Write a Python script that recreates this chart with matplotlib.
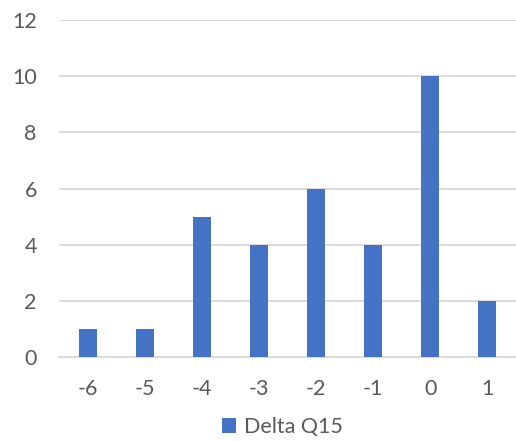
import matplotlib
matplotlib.use("Agg")
import matplotlib.pyplot as plt
from matplotlib.patches import Patch

categories = ["-6", "-5", "-4", "-3", "-2", "-1", "0", "1"]
counts = [1, 1, 5, 4, 6, 4, 10, 2]
series_name = "Delta Q15"
y_ticks = [0, 2, 4, 6, 8, 10, 12]

bar_color = "#4472C4"
text_color = "#595959"
grid_color = "#D9D9D9"

plt.rcParams["font.family"] = ["Lato", "DejaVu Sans"]

fig = plt.figure(figsize=(5.16, 4.41), dpi=100)
ax = fig.add_axes([0.1143, 0.1905, 0.8857, 0.7641])

x = range(len(categories))
ax.bar(x, counts, width=0.315, color=bar_color, zorder=3)

ax.set_xlim(-0.5, len(categories) - 0.5)
ax.set_ylim(0, 12)
ax.set_yticks(y_ticks)
ax.set_xticks(list(x))
ax.set_xticklabels(categories)

ax.yaxis.grid(True, color=grid_color, linewidth=1.3, zorder=0)
ax.set_axisbelow(True)
for side in ["left", "right", "top"]:
    ax.spines[side].set_visible(False)
ax.spines["bottom"].set_color(grid_color)
ax.spines["bottom"].set_linewidth(1.3)
ax.spines["bottom"].set_zorder(1)

ax.tick_params(axis="y", length=0, pad=16, labelsize=15.5, labelcolor=text_color)
ax.tick_params(axis="x", length=0, pad=16, labelsize=15.5, labelcolor=text_color)

handle = Patch(facecolor=bar_color, edgecolor="none")
fig.legend([handle], [series_name], loc="center", bbox_to_anchor=(0.547, 0.032),
           frameon=False, fontsize=15.5, labelcolor=text_color,
           handlelength=0.65, handleheight=0.65, handletextpad=0.4)

fig.savefig("out.png", dpi=100)
